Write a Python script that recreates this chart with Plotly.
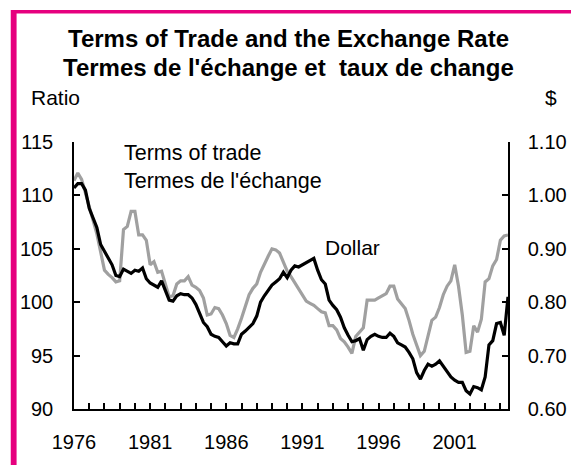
import plotly.graph_objects as go

# Quarterly data, 1976Q1 - 2004Q3
start_year = 1976
terms_of_trade = [
    111.4, 112.1, 111.5, 110.2,   # 1976
    109.0, 107.8, 106.4, 104.7,   # 1977
    103.0, 102.6, 102.3, 101.9,   # 1978
    102.0, 106.8, 107.1, 108.5,   # 1979
    108.5, 106.3, 106.3, 105.8,   # 1980
    103.5, 103.8, 102.8, 102.9,   # 1981
    101.8, 100.5, 100.6, 101.7,   # 1982
    102.0, 102.0, 102.4, 101.6,   # 1983
    101.4, 101.1, 100.4, 98.8,    # 1984
    98.9, 99.5, 99.4, 98.8,       # 1985
    98.0, 96.9, 96.7, 97.5,       # 1986
    98.5, 99.7, 100.7, 101.3,     # 1987
    101.7, 102.8, 103.6, 104.3,   # 1988
    105.0, 104.9, 104.6, 103.8,   # 1989
    102.9, 102.4, 101.8, 101.2,   # 1990
    100.6, 100.1, 99.9, 99.7,     # 1991
    99.4, 99.1, 99.0, 97.8,       # 1992
    97.8, 97.4, 96.6, 96.3,       # 1993
    95.8, 95.2, 96.8, 97.2,       # 1994
    97.6, 100.2, 100.2, 100.2,    # 1995
    100.4, 100.6, 100.8, 101.5,   # 1996
    101.5, 100.3, 99.8, 99.4,     # 1997
    98.3, 97.0, 96.0, 95.0,       # 1998
    95.4, 97.0, 98.3, 98.6,       # 1999
    99.5, 100.7, 101.5, 102.0,    # 2000
    103.5, 101.5, 98.8, 95.3,     # 2001
    95.4, 97.8, 97.2, 98.4,       # 2002
    101.9, 102.2, 103.4, 104.0,   # 2003
    105.8, 106.2, 106.3,          # 2004
]
dollar = [
    1.014, 1.022, 1.022, 1.010,   # 1976
    0.976, 0.958, 0.940, 0.908,   # 1977
    0.896, 0.882, 0.870, 0.850,   # 1978
    0.848, 0.862, 0.858, 0.854,   # 1979
    0.860, 0.858, 0.864, 0.844,   # 1980
    0.836, 0.832, 0.828, 0.840,   # 1981
    0.822, 0.804, 0.802, 0.812,   # 1982
    0.816, 0.814, 0.814, 0.808,   # 1983
    0.796, 0.780, 0.762, 0.754,   # 1984
    0.740, 0.736, 0.734, 0.726,   # 1985
    0.718, 0.724, 0.722, 0.722,   # 1986
    0.740, 0.746, 0.754, 0.760,   # 1987
    0.774, 0.800, 0.812, 0.822,   # 1988
    0.832, 0.838, 0.844, 0.856,   # 1989
    0.846, 0.860, 0.868, 0.866,   # 1990
    0.870, 0.874, 0.878, 0.882,   # 1991
    0.860, 0.842, 0.834, 0.804,   # 1992
    0.794, 0.786, 0.772, 0.752,   # 1993
    0.738, 0.726, 0.728, 0.732,   # 1994
    0.710, 0.730, 0.736, 0.740,   # 1995
    0.736, 0.734, 0.734, 0.742,   # 1996
    0.736, 0.724, 0.720, 0.716,   # 1997
    0.706, 0.694, 0.668, 0.656,   # 1998
    0.672, 0.684, 0.680, 0.684,   # 1999
    0.690, 0.680, 0.672, 0.660,   # 2000
    0.654, 0.650, 0.650, 0.634,   # 2001
    0.628, 0.642, 0.640, 0.636,   # 2002
    0.660, 0.720, 0.728, 0.760,   # 2003
    0.762, 0.738, 0.810,          # 2004
]
year_labels = [1976, 1981, 1986, 1991, 1996, 2001]
left_ticks = [90, 95, 100, 105, 110, 115]
right_ticks = [0.60, 0.70, 0.80, 0.90, 1.00, 1.10]

x = [start_year + i / 4 for i in range(len(dollar))]

FONT = "Liberation Sans, Arial, sans-serif"
GRAY = "#a0a0a0"
MAGENTA = "#e6007e"
TICK_SIZE = 20

fig = go.Figure()
fig.add_trace(go.Scatter(x=x, y=terms_of_trade, mode="lines", name="Terms of trade",
                         line=dict(color=GRAY, width=3.2), yaxis="y"))
fig.add_trace(go.Scatter(x=x, y=dollar, mode="lines", name="Dollar",
                         line=dict(color="black", width=3.2), yaxis="y2"))

axis_common = dict(showgrid=False, zeroline=False, showline=True, linecolor="black",
                   linewidth=1.5, ticks="inside", ticklen=6, tickcolor="black", tickwidth=1.5,
                   tickfont=dict(family=FONT, size=TICK_SIZE, color="black"))

# The page body adds an 8px offset, so the figure is 571x457 placed at (8, 8)
fig.update_layout(
    width=571, height=457,
    margin=dict(l=64, r=61, t=134, b=50, pad=0),
    paper_bgcolor="white", plot_bgcolor="white",
    showlegend=False,
    xaxis=dict(range=[1976, 2004.5], tickvals=year_labels,
               minor=dict(dtick=1, tick0=1976, ticks="inside", ticklen=6, tickcolor="black", tickwidth=1.5),
               ticklabelstandoff=14, **axis_common),
    yaxis=dict(range=[90, 115], tickvals=left_ticks, ticklabelstandoff=15, **axis_common),
    yaxis2=dict(range=[0.60, 1.10], tickvals=right_ticks, tickformat=".2f", overlaying="y",
                side="right", ticklabelstandoff=14, **axis_common),
)

# page-pixel -> paper coordinates (plot area spans page x 72..518, y 142..415)
def px2x(px):
    return (px - 72) / 446

def py2y(py):
    return (415 - py) / 273

annots = [
    dict(text="<b>Terms of Trade and the Exchange Rate</b>", x=px2x(292), y=py2y(36), size=24, xanchor="center"),
    dict(text="<b>Termes de l'échange et  taux de change</b>", x=px2x(292), y=py2y(66), size=24, xanchor="center"),
    dict(text="Ratio", x=px2x(26), y=py2y(96), size=21, xanchor="left"),
    dict(text="$", x=px2x(562), y=py2y(96), size=21, xanchor="center"),
    dict(text="Terms of trade", x=px2x(121), y=py2y(153), size=21.5, xanchor="left"),
    dict(text="Termes de l'échange", x=px2x(121), y=py2y(182), size=21.5, xanchor="left"),
    dict(text="Dollar", x=px2x(328), y=py2y(250), size=21, xanchor="left"),
]
for a in annots:
    fig.add_annotation(text=a["text"], x=a["x"], y=a["y"], xref="paper", yref="paper",
                       xanchor=a["xanchor"], yanchor="middle", showarrow=False,
                       font=dict(family=FONT, size=a["size"], color="black"))

# magenta frame (top and left edges)
fig.add_shape(type="rect", xref="paper", yref="paper", x0=px2x(8), x1=px2x(600),
              y0=py2y(10.5), y1=py2y(7), fillcolor=MAGENTA, line=dict(width=0), layer="above")
fig.add_shape(type="rect", xref="paper", yref="paper", x0=px2x(7), x1=px2x(13),
              y0=py2y(480), y1=py2y(7), fillcolor=MAGENTA, line=dict(width=0), layer="above")

fig.write_html("out.html")
